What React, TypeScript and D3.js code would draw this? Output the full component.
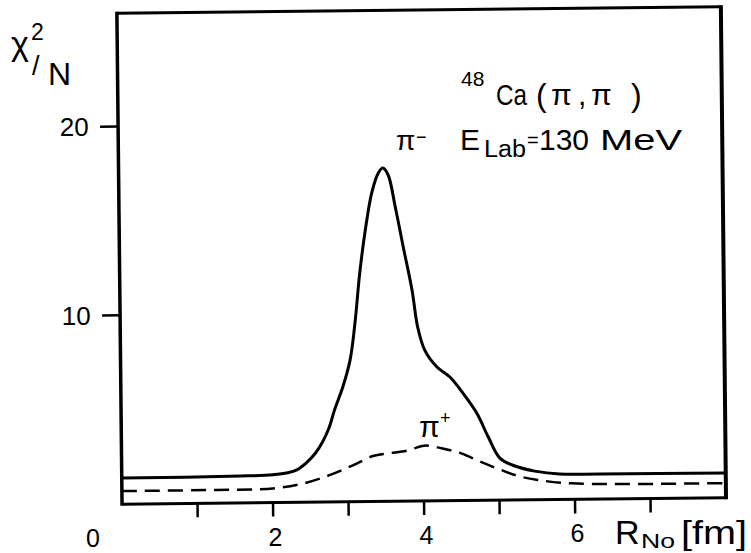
import React from 'react';
import * as d3 from 'd3';

// ---- data ----
const piMinusR = [0, 1.57, 2.0, 2.2, 2.32, 2.45, 2.57, 2.66, 2.75, 2.83, 2.94, 3.04, 3.11, 3.18, 3.26, 3.35, 3.44, 3.50, 3.57, 3.66, 3.76, 3.87, 3.94, 4.03, 4.19, 4.36, 4.53, 4.71, 4.86, 5.01, 5.21, 5.47, 5.80, 6.34, 8.0];
const piMinusChi = [1.38, 1.42, 1.47, 1.57, 1.72, 2.1, 2.6, 3.15, 3.9, 4.9, 6.08, 7.50, 9.46, 12.10, 14.38, 16.34, 17.39, 17.65, 17.28, 15.58, 13.46, 11.18, 9.21, 7.99, 7.09, 6.55, 5.69, 4.63, 3.35, 2.23, 1.80, 1.52, 1.35, 1.33, 1.32];

const piPlusR = [0, 1.14, 2.0, 2.41, 2.76, 3.07, 3.33, 3.53, 3.78, 4.01, 4.24, 4.50, 4.75, 5.00, 5.25, 5.51, 5.96, 8.0];
const piPlusChi = [0.69, 0.70, 0.75, 1.00, 1.43, 1.94, 2.41, 2.54, 2.67, 2.93, 2.78, 2.50, 2.05, 1.64, 1.27, 1.05, 0.85, 0.78];

const xTicks = [1, 2, 3, 4, 5, 6, 7];
const xTickLabels = [2, 4, 6];
const yTicks = [10, 20];
const xDomain = [0, 8];
const yDomain = [0, 26];

// ---- layout ----
const W = 751, H = 553;
const ROT = -0.6, CX = 420, CY = 260; // slight scan tilt
const FONT = '"Liberation Sans", Arial, sans-serif';

function rot(x: number, y: number): [number, number] {
  const a = (ROT * Math.PI) / 180;
  const dx = x - CX, dy = y - CY;
  return [CX + dx * Math.cos(a) - dy * Math.sin(a), CY + dx * Math.sin(a) + dy * Math.cos(a)];
}

export default function App() {
  const x = d3.scaleLinear().domain(xDomain).range([119.5, 723.5]);
  const y = d3.scaleLinear().domain(yDomain).range([501, 10]);

  const line = d3.line<[number, number]>()
    .x(d => x(d[0]))
    .y(d => y(d[1]))
    .curve(d3.curveCatmullRom.alpha(0.5));

  const minusPts = piMinusR.map((r, i) => [r, piMinusChi[i]] as [number, number]);
  const plusPts = piPlusR.map((r, i) => [r, piPlusChi[i]] as [number, number]);

  const x0 = x(xDomain[0]), x1 = x(xDomain[1]);
  const y0 = y(yDomain[0]), y1 = y(yDomain[1]);

  return (
    <svg width={W} height={H} viewBox={`0 0 ${W} ${H}`}
      style={{ position: 'absolute', left: 0, top: 0, background: '#fff' }}
      fontFamily={FONT}>
      <rect x={0} y={0} width={W} height={H} fill="#fff" />
      <g transform={`rotate(${ROT}, ${CX}, ${CY})`}>
        {/* frame */}
        <line x1={x0} y1={y1} x2={x1} y2={y1} stroke="#000" strokeWidth={3} />
        <line x1={x0} y1={y1 - 1.5} x2={x0} y2={y0 + 1.5} stroke="#000" strokeWidth={3.5} />
        <line x1={x1} y1={y1 - 1.5} x2={x1} y2={y0 + 1.5} stroke="#000" strokeWidth={4} />
        <line x1={x0} y1={y0} x2={x1} y2={y0} stroke="#000" strokeWidth={3} />
        {/* ticks */}
        {xTicks.map(t => (
          <line key={'xt' + t} x1={x(t)} x2={x(t)} y1={y0} y2={y0 + 14} stroke="#000" strokeWidth={2.5} />
        ))}
        {yTicks.map(t => (
          <line key={'yt' + t} x1={x0 - 18} x2={x0} y1={y(t)} y2={y(t)} stroke="#000" strokeWidth={2.5} />
        ))}
        {/* curves */}
        <path d={line(minusPts) || ''} fill="none" stroke="#000" strokeWidth={3} strokeLinejoin="round" />
        <path d={line(plusPts) || ''} fill="none" stroke="#000" strokeWidth={2.5} strokeDasharray="15 8" />
      </g>

      {/* tick labels */}
      {xTickLabels.map(t => {
        const [px, py] = rot(x(t) + 2, 544);
        return <text key={'xl' + t} x={px} y={py} fontSize={25} textAnchor="middle">{t}</text>;
      })}
      {yTicks.map(t => {
        const [px, py] = rot(90, y(t) + 9.5);
        return <text key={'yl' + t} x={px} y={py} fontSize={26} textAnchor="end">{t}</text>;
      })}
      {(() => {
        const [px, py] = rot(90, 544);
        return <text x={px} y={py} fontSize={25} textAnchor="middle">0</text>;
      })()}

      {/* y-axis title */}
      <text x={11} y={55} fontSize={34}>χ</text>
      <text x={31} y={40} fontSize={23}>2</text>
      <text x={32} y={75} fontSize={27}>/</text>
      <text x={48} y={85} fontSize={32}>N</text>

      {/* x-axis title */}
      <text x={615} y={544} fontSize={34}>R</text>
      <text x={641} y={548} fontSize={21} textLength={34} lengthAdjust="spacingAndGlyphs">No</text>
      <text x={681} y={544} fontSize={34} textLength={66} lengthAdjust="spacingAndGlyphs">[fm]</text>

      {/* annotation */}
      <text x={461} y={86} fontSize={21}>48</text>
      <text x={496} y={105} fontSize={30} textLength={31} lengthAdjust="spacingAndGlyphs">Ca</text>
      <text x={536} y={106} fontSize={32}>(</text>
      <text x={551} y={105} fontSize={30}>π</text>
      <text x={578} y={105} fontSize={30}>,</text>
      <text x={591} y={105} fontSize={30}>π</text>
      <text x={631} y={106} fontSize={32}>)</text>

      <text x={460} y={150} fontSize={30}>E</text>
      <text x={484} y={157} fontSize={23} textLength={42} lengthAdjust="spacingAndGlyphs">Lab</text>
      <text x={527} y={147} fontSize={20}>=</text>
      <text x={539} y={150} fontSize={30}>130</text>
      <text x={600} y={150} fontSize={30} textLength={82} lengthAdjust="spacingAndGlyphs">MeV</text>

      {/* curve labels */}
      <text x={396} y={150} fontSize={28}>π</text>
      <text x={416} y={143} fontSize={18}>−</text>
      <text x={419} y={437} fontSize={30}>π</text>
      <text x={440} y={424} fontSize={18}>+</text>
    </svg>
  );
}
